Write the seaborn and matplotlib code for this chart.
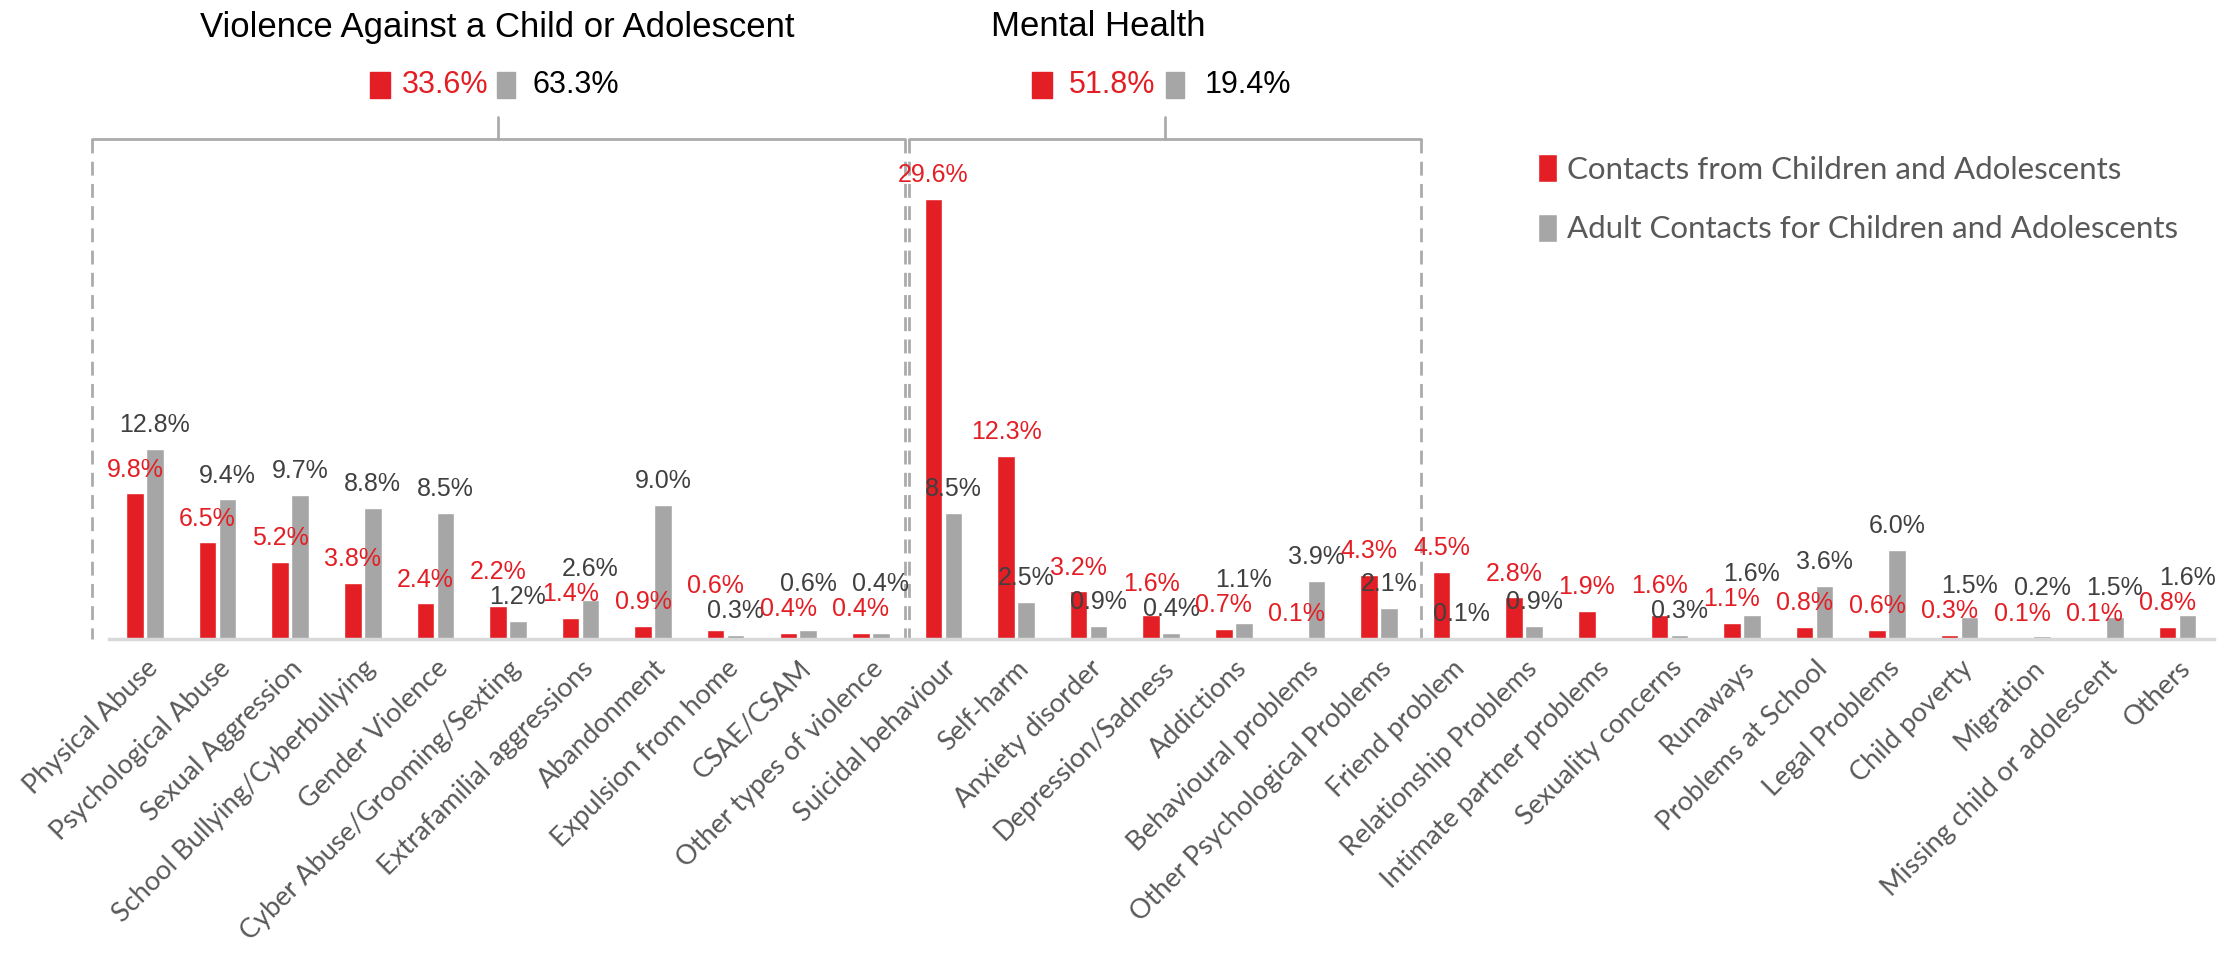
import numpy as np
import pandas as pd
import matplotlib.pyplot as plt
from matplotlib.patches import Rectangle
import seaborn as sns

# data
categories = ['Physical Abuse', 'Psychological Abuse', 'Sexual Aggression',
              'School Bullying/Cyberbullying', 'Gender Violence',
              'Cyber Abuse/Grooming/Sexting', 'Extrafamilial aggressions',
              'Abandonment', 'Expulsion from home', 'CSAE/CSAM',
              'Other types of violence', 'Suicidal behaviour', 'Self-harm',
              'Anxiety disorder', 'Depression/Sadness', 'Addictions',
              'Behavioural problems', 'Other Psychological Problems',
              'Friend problem', 'Relationship Problems',
              'Intimate partner problems', 'Sexuality concerns', 'Runaways',
              'Problems at School', 'Legal Problems', 'Child poverty',
              'Migration', 'Missing child or adolescent', 'Others']
children = [9.8, 6.5, 5.2, 3.8, 2.4, 2.2, 1.4, 0.9, 0.6, 0.4, 0.4,
            29.6, 12.3, 3.2, 1.6, 0.7, 0.1, 4.3,
            4.5, 2.8, 1.9, 1.6, 1.1, 0.8, 0.6, 0.3, 0.1, 0.1, 0.8]
adults = [12.8, 9.4, 9.7, 8.8, 8.5, 1.2, 2.6, 9.0, 0.3, 0.6, 0.4,
          8.5, 2.5, 0.9, 0.4, 1.1, 3.9, 2.1,
          0.1, 0.9, np.nan, 0.3, 1.6, 3.6, 6.0, 1.5, 0.2, 1.5, 1.6]
series_names = ['Contacts from Children and Adolescents',
                'Adult Contacts for Children and Adolescents']
group_titles = ['Violence Against a Child or Adolescent', 'Mental Health']
group_children = ['33.6%', '51.8%']
group_adults = ['63.3%', '19.4%']

RED = '#E31E24'
GRAY = '#A6A6A6'

df = pd.DataFrame({'category': categories,
                   series_names[0]: children,
                   series_names[1]: adults})
long = df.melt(id_vars='category', var_name='series', value_name='pct')
long['pct'] = long['pct'].fillna(0)

sns.set_style('white')
plt.rcParams['font.family'] = ['Lato', 'DejaVu Sans']
narrow = ['Liberation Sans', 'DejaVu Sans']

fig = plt.figure(figsize=(22.28, 9.59), dpi=100)
ax = fig.add_axes([108.7 / 2228, 320 / 959, 2105 / 2228, 639 / 959])

sns.barplot(data=long, x='category', y='pct', hue='series', order=categories,
            hue_order=series_names, palette=[RED, GRAY], width=0.55, gap=0.12,
            saturation=1, ax=ax)

ax.set_xlim(-0.5, len(categories) - 0.5)
ax.set_ylim(0, 43)
ax.set_xlabel('')
ax.set_ylabel('')
ax.set_yticks([])
for s in ['top', 'right', 'left']:
    ax.spines[s].set_visible(False)
ax.spines['bottom'].set_color('#D9D9D9')
ax.spines['bottom'].set_linewidth(2.5)
ax.tick_params(axis='x', length=0, pad=12)
plt.setp(ax.get_xticklabels(), rotation=45, ha='right', rotation_mode='anchor',
         fontsize=19.5, color='#595959')

# value labels: above each bar, the taller label of a pair lifted so they don't collide
off, sep = 1.6, 1.7
for i, (rc, ra) in enumerate(zip(ax.containers[0], ax.containers[1])):
    c, a = children[i], adults[i]
    yc = c + off
    ya = None if np.isnan(a) else a + off
    if ya is not None and abs(yc - ya) < sep:
        if c > a:
            yc = ya + sep
        else:
            ya = yc + sep
    ax.text(rc.get_x() + rc.get_width() / 2, yc, f'{c:.1f}%', ha='center',
            va='center', color=RED, fontsize=18, family=narrow)
    if ya is not None:
        ax.text(ra.get_x() + ra.get_width() / 2, ya, f'{a:.1f}%', ha='center',
                va='center', color='#404040', fontsize=18, family=narrow)

# legend
handles, labels = ax.get_legend_handles_labels()
ax.get_legend().remove()
ax.legend(handles, labels, loc='upper left', bbox_to_anchor=(0.6905, 0.839),
          bbox_transform=fig.transFigure, frameon=False, fontsize=22.5,
          labelcolor='#595959', handlelength=0.6, handleheight=1.0,
          handletextpad=0.3, labelspacing=0.95, borderpad=0, borderaxespad=0)

# group brackets
bracket_color = '#ABABAB'
spans = [(-0.73, 10.47), (10.53, 17.58)]
y_top, y_tick = 33.65, 35.1
for x0, x1 in spans:
    ax.plot([x0, x1], [y_top, y_top], color=bracket_color, lw=2, clip_on=False)
    ax.plot([x0, x0], [y_top, 0], color=bracket_color, lw=2, ls=(0, (5, 3)),
            clip_on=False)
    ax.plot([x1, x1], [y_top, 0], color=bracket_color, lw=2, ls=(0, (5, 3)),
            clip_on=False)
    xm = (x0 + x1) / 2
    ax.plot([xm, xm], [y_top, y_tick], color=bracket_color, lw=2, clip_on=False)

# group titles and totals (figure coordinates)
W, H = 2228, 959
title_x = [497, 1098]
sq_red_x = [380, 1042]
txt_red_x = [402, 1069]
sq_gray_x = [506, 1175]
txt_gray_x = [533, 1205]
for i in range(2):
    fig.text(title_x[i] / W, 1 - 27 / H, group_titles[i], ha='center',
             va='center', fontsize=25, family=narrow, color='black')
    fig.patches.append(Rectangle(((sq_red_x[i] - 10) / W, 1 - 98 / H), 20 / W,
                                 26 / H, transform=fig.transFigure,
                                 color=RED, figure=fig))
    fig.patches.append(Rectangle(((sq_gray_x[i] - 9) / W, 1 - 98 / H), 18 / W,
                                 26 / H, transform=fig.transFigure,
                                 color=GRAY, figure=fig))
    fig.text(txt_red_x[i] / W, 1 - 85 / H, group_children[i], ha='left',
             va='center', fontsize=22, family=narrow, color=RED)
    fig.text(txt_gray_x[i] / W, 1 - 85 / H, group_adults[i], ha='left',
             va='center', fontsize=22, family=narrow, color='black')

fig.savefig('out.png', dpi=100, facecolor='white')
